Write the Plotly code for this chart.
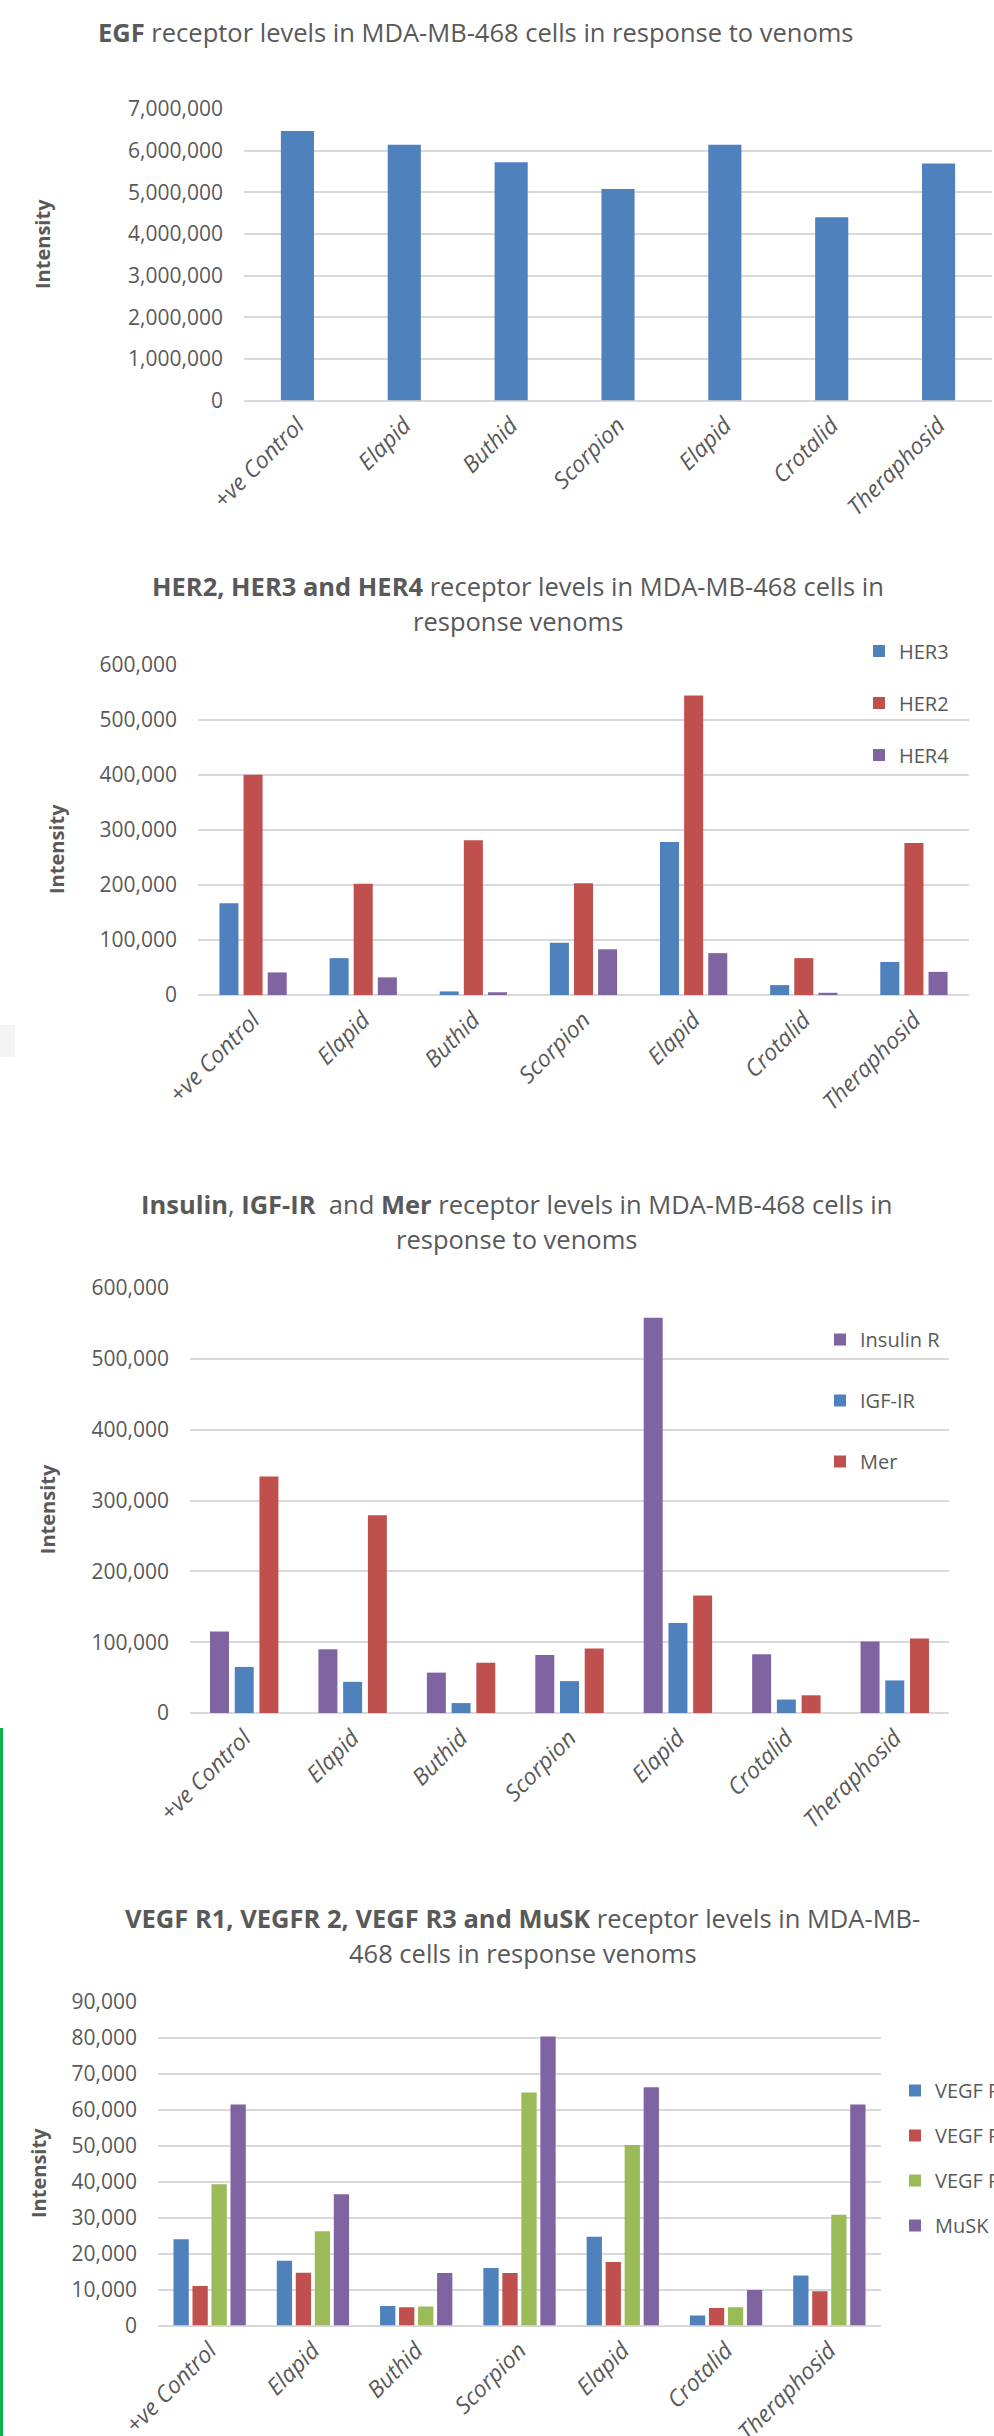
import plotly.graph_objects as go

W, H = 994, 2436

categories = ["+ve Control", "Elapid", "Buthid", "Scorpion", "Elapid", "Crotalid", "Theraphosid"]

# Chart 1: EGF receptor
egf = [6470000, 6140000, 5720000, 5080000, 6140000, 4400000, 5690000]

# Chart 2: HER receptors
her3 = [166700, 67000, 6500, 95000, 278000, 18000, 60000]
her2 = [400000, 202000, 281000, 203000, 544000, 67000, 276000]
her4 = [41000, 32000, 5000, 83000, 76000, 4000, 42000]

# Chart 3: Insulin / IGF-IR / Mer
insulin_r = [115000, 90000, 57000, 82000, 558000, 83000, 101000]
igf_ir = [65000, 44000, 14000, 45000, 127000, 19000, 46000]
mer = [334000, 279000, 71000, 91000, 166000, 25000, 105000]

# Chart 4: VEGF R1/R2/R3 and MuSK
vegf_r1 = [24000, 18000, 5400, 16000, 24700, 2800, 13900]
vegf_r2 = [11000, 14700, 5100, 14600, 17700, 4900, 9500]
vegf_r3 = [39300, 26200, 5300, 64800, 50200, 5100, 30800]
musk = [61500, 36500, 14600, 80400, 66300, 9900, 61500]

BLUE, RED, GREEN, PURPLE = "#4F81BD", "#C0504D", "#9BBB59", "#8064A2"
TXT = "#595959"
GRID = "#D9D9D9"
FONT = "Open Sans"

xs = list(range(len(categories)))

fig = go.Figure()


def px_x(v):
    return v / W


def px_y(v):
    return 1 - v / H


def add_group(series, names, colors, width, step, xa, ya, legend):
    n = len(series)
    for i, (vals, nm, col) in enumerate(zip(series, names, colors)):
        center = (i - (n - 1) / 2) * step
        fig.add_trace(go.Bar(
            x=xs, y=vals, name=nm, marker=dict(color=col, line=dict(width=0)),
            width=width, offset=center - width / 2,
            xaxis=xa, yaxis=ya,
            showlegend=legend is not None, legend=legend if legend else "legend",
            legendgroup=f"{ya}_{nm}",
        ))


add_group([egf], ["EGF"], [BLUE], 0.31, 0.0, "x", "y", None)
add_group([her3, her2, her4], ["HER3", "HER2", "HER4"], [BLUE, RED, PURPLE],
          0.173, 0.219, "x2", "y2", "legend")
add_group([insulin_r, igf_ir, mer], ["Insulin R", "IGF-IR", "Mer"], [PURPLE, BLUE, RED],
          0.175, 0.228, "x3", "y3", "legend2")
add_group([vegf_r1, vegf_r2, vegf_r3, musk], ["VEGF R1", "VEGF R2", "VEGF R3", "MuSK"],
          [BLUE, RED, GREEN, PURPLE], 0.148, 0.184, "x4", "y4", "legend3")

# plot areas in pixels: (left, right, top, bottom)
areas = [
    (244, 992, 109, 400.5, 7000000, 1000000),
    (198, 969, 664.6, 995, 600000, 100000),
    (190, 949, 1288, 1713, 600000, 100000),
    (158, 881, 2002, 2325.5, 90000, 10000),
]

layout = {}
for k, (l, r, t, b, ymax, dt) in enumerate(areas):
    sfx = "" if k == 0 else str(k + 1)
    layout["xaxis" + sfx] = dict(
        domain=[px_x(l), px_x(r)], anchor="y" + sfx, range=[-0.5, 6.5],
        tickvals=xs, ticktext=categories, tickangle=-45,
        tickfont=dict(family=FONT, size=23, color=TXT, style="italic"),
        showgrid=False, zeroline=False, showline=False, ticks="",
        ticklabelstandoff=6, fixedrange=True,
    )
    layout["yaxis" + sfx] = dict(
        domain=[px_y(b), px_y(t)], anchor="x" + sfx, range=[0, ymax], dtick=dt,
        tickformat=",d", tickfont=dict(family=FONT, size=21, color=TXT),
        showgrid=True, gridcolor=GRID, gridwidth=1.5,
        zeroline=True, zerolinecolor=GRID, zerolinewidth=1.5,
        showline=False, ticks="", ticklabelstandoff=20, fixedrange=True,
    )

fig.update_layout(**layout)

legend_common = dict(
    xref="paper", yref="paper", xanchor="left", yanchor="top",
    font=dict(family=FONT, size=20, color=TXT), bgcolor="rgba(0,0,0,0)",
    borderwidth=0, traceorder="grouped", itemwidth=30, itemclick=False,
)
fig.update_layout(
    legend=dict(x=px_x(859), y=px_y(631.5), tracegroupgap=23, **legend_common),
    legend2=dict(x=px_x(820), y=px_y(1320), tracegroupgap=32, **legend_common),
    legend3=dict(x=px_x(895), y=px_y(2071), tracegroupgap=16, **legend_common),
)

# Titles (each line as its own annotation)
title_lines = [
    ("<b>EGF</b> receptor levels in MDA-MB-468 cells in response to venoms", 476, 32),
    ("<b>HER2, HER3 and HER4</b> receptor levels in MDA-MB-468 cells in", 518, 585.7),
    ("response venoms", 518, 620.7),
    ("<b>Insulin</b>, <b>IGF-IR</b>  and <b>Mer</b> receptor levels in MDA-MB-468 cells in", 516, 1203.6),
    ("response to venoms", 516, 1239.3),
    ("<b>VEGF R1, VEGFR 2, VEGF R3 and MuSK</b> receptor levels in MDA-MB-", 522.5, 1917.6),
    ("468 cells in response venoms", 522.5, 1953.3),
]
annotations = []
for txt, cx, cy in title_lines:
    annotations.append(dict(
        text=txt, x=px_x(cx), y=px_y(cy), xref="paper", yref="paper",
        xanchor="center", yanchor="middle", showarrow=False,
        font=dict(family=FONT, size=25.5, color=TXT),
    ))

# Y axis titles
for cx, cy in [(42.5, 244.5), (56, 849), (47.6, 1509.6), (38, 2173)]:
    annotations.append(dict(
        text="<b>Intensity</b>", x=px_x(cx), y=px_y(cy), xref="paper", yref="paper",
        xanchor="center", yanchor="middle", showarrow=False, textangle=-90,
        font=dict(family=FONT, size=20, color=TXT),
    ))

shapes = [
    dict(type="rect", xref="paper", yref="paper", x0=0, x1=px_x(3), y0=0, y1=px_y(1728),
         fillcolor="#0DB14B", line=dict(width=0), layer="above"),
    dict(type="rect", xref="paper", yref="paper", x0=0, x1=px_x(15), y0=px_y(1057), y1=px_y(1025),
         fillcolor="#F4F4F4", line=dict(width=0), layer="below"),
]

fig.update_layout(
    width=W, height=H, margin=dict(l=0, r=0, t=0, b=0, autoexpand=False),
    paper_bgcolor="white", plot_bgcolor="white", barmode="overlay",
    annotations=annotations, shapes=shapes,
)

fig.write_html("out.html", config={"displayModeBar": False})
